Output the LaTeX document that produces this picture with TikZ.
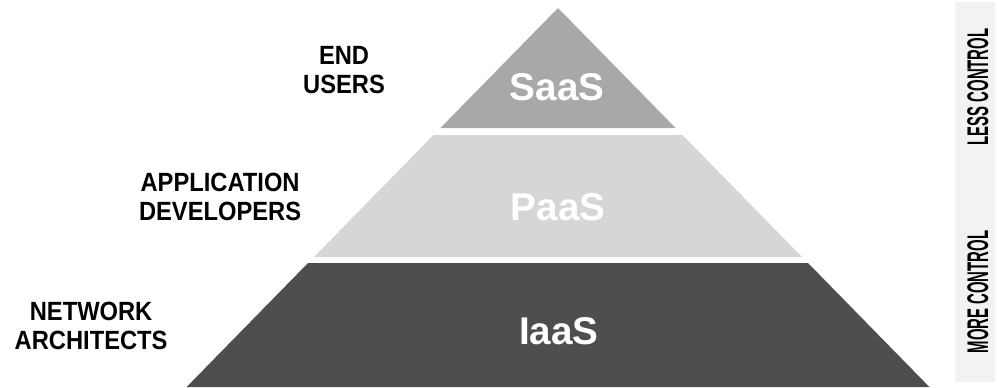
\documentclass[tikz,border=0pt]{standalone}
\usepackage{fontspec}
\setmainfont{Liberation Sans}
\newfontfamily\tierfont[FakeStretch=0.9]{Liberation Sans}
\newfontfamily\sidefont[FakeStretch=0.5]{Liberation Sans}
\usetikzlibrary{positioning}
\definecolor{saasgray}{HTML}{A8A8A8}
\definecolor{paasgray}{HTML}{D6D6D6}
\definecolor{iaasgray}{HTML}{4E4E4E}
\definecolor{bargray}{HTML}{F2F2F2}

\begin{document}
\begin{tikzpicture}[x=0.02cm, y=-0.02cm, on grid,
    layer/.style={text=white, font=\fontsize{22}{24}\selectfont\bfseries},
    who/.style={align=center, text=black, font=\tierfont\fontsize{15}{16.5}\selectfont\bfseries},
    control/.style={rotate=90, text=black, font=\sidefont\fontsize{17}{18}\selectfont\bfseries}]
      \useasboundingbox (0,0) rectangle (997,387);

      % pyramid bands
      \fill[saasgray] (558,8) -- (675.6,128) -- (440.4,128) -- cycle;
      \fill[paasgray] (433.5,135) -- (682.5,135) -- (802,257) -- (314,257) -- cycle;
      \fill[iaasgray] (308,263) -- (808,263) -- (929.4,387) -- (186.6,387) -- cycle;
      \fill[bargray] (955,2) rectangle (995,382);

      \node[layer] (saas) at (557,87) {SaaS};
      \node[layer] (paas) at (558,207) {PaaS};
      \node[layer] (iaas) at (559,331) {IaaS};

      \node[who, above left= 0.34cm and 4.26cm of saas] (endusers) {END\\USERS};
      \node[who, above left= 0.2cm and 6.76cm of paas] (appdevs) {APPLICATION\\DEVELOPERS};
      \node[who, above left= 0.1cm and 9.36cm of iaas] (netarch) {NETWORK\\ARCHITECTS};

      \node[control, right= 8.42cm of saas] (less) {LESS CONTROL};
      \node[control, above right= 0.78cm and 8.38cm of iaas] (more) {MORE CONTROL};
    \end{tikzpicture}
\end{document}
